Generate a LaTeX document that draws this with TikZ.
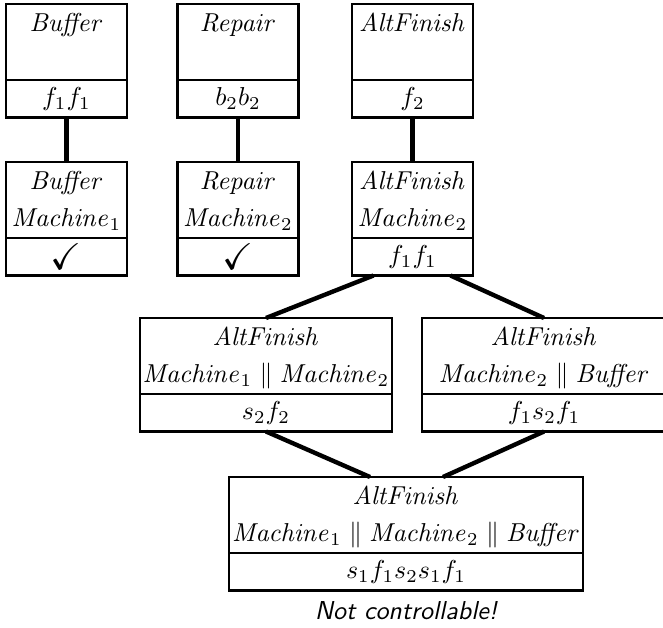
\documentclass[tikz,border=0pt]{standalone}
\usepackage{amssymb}
\usetikzlibrary{positioning}

\newdimen\px
\px=0.386pt
\newcommand\dn{\rule[-2pt]{0pt}{2pt}}

\begin{document}
\begin{tikzpicture}[
  x=\px, y=-\px,
  head/.style={draw, line width=0.9pt, inner sep=0pt, outer sep=0pt, anchor=north, align=center,
    minimum width=#1, minimum height=76\px,
    execute at begin node={\setlength{\baselineskip}{14.3pt}}},
  head/.default=121\px,
  foot/.style={draw, line width=0.9pt, inner sep=0pt, outer sep=0pt, minimum width=#1, minimum height=37.5\px},
  foot/.default=121\px,
  link/.style={line width=1.7pt},
  note/.style={font=\sffamily\itshape, inner sep=0pt}
]
  \useasboundingbox (0,0) rectangle (663,628);

  % top row: single components
  \node[head] (buf) at (66.5,4) {\strut$\mathit{Buffer}$\\\dn};
  \node[foot, below=0pt of buf] (bufT) {$f_1f_1$};
  \node[head] (rep) at (238,4) {\strut$\mathit{Repair}$\\\dn};
  \node[foot, below=0pt of rep] (repT) {$b_2b_2$};
  \node[head] (alt) at (412.5,4) {\strut$\mathit{AltFinish}$\\\dn};
  \node[foot, below=0pt of alt] (altT) {$f_2$};

  % second row
  \node[head] (bufM) at (66.5,162) {\strut$\mathit{Buffer}$\\\dn$\mathit{Machine}_1$};
  \node[foot, below=0pt of bufM] (bufMT) {\Large$\checkmark$};
  \node[head] (repM) at (238,162) {\strut$\mathit{Repair}$\\\dn$\mathit{Machine}_2$};
  \node[foot, below=0pt of repM] (repMT) {\Large$\checkmark$};
  \node[head] (altM) at (412.5,162) {\strut$\mathit{AltFinish}$\\\dn$\mathit{Machine}_2$};
  \node[foot, below=0pt of altM] (altMT) {$f_1f_1$};

  % third row
  \node[head=252\px] (altMM) at (266,318)
    {\strut$\mathit{AltFinish}$\\\dn$\mathit{Machine}_1 \parallel \mathit{Machine}_2$};
  \node[foot=252\px, below=0pt of altMM] (altMMT) {$s_2f_2$};
  \node[head=244\px] (altMB) at (544,318)
    {\strut$\mathit{AltFinish}$\\\dn$\mathit{Machine}_2 \parallel \mathit{Buffer}$};
  \node[foot=244\px, below=0pt of altMB] (altMBT) {$f_1s_2f_1$};

  % bottom
  \node[head=354\px] (all) at (406,477)
    {\strut$\mathit{AltFinish}$\\\dn$\mathit{Machine}_1 \parallel \mathit{Machine}_2 \parallel \mathit{Buffer}$};
  \node[foot=354\px, below=0pt of all] (allT) {$s_1f_1s_2s_1f_1$};
  \node[note, below=4pt of allT] (verdict) {Not controllable!};

  \draw[link] (bufT.south) -- (bufM.north);
  \draw[link] (repT.south) -- (repM.north);
  \draw[link] (altT.south) -- (altM.north);
  \draw[link] ([xshift=-39\px]altMT.south) -- (altMM.north);
  \draw[link] ([xshift=38\px]altMT.south) -- (altMB.north);
  \draw[link] (altMMT.south) -- ([xshift=-36\px]all.north);
  \draw[link] (altMBT.south) -- ([xshift=37\px]all.north);
\end{tikzpicture}
\end{document}
